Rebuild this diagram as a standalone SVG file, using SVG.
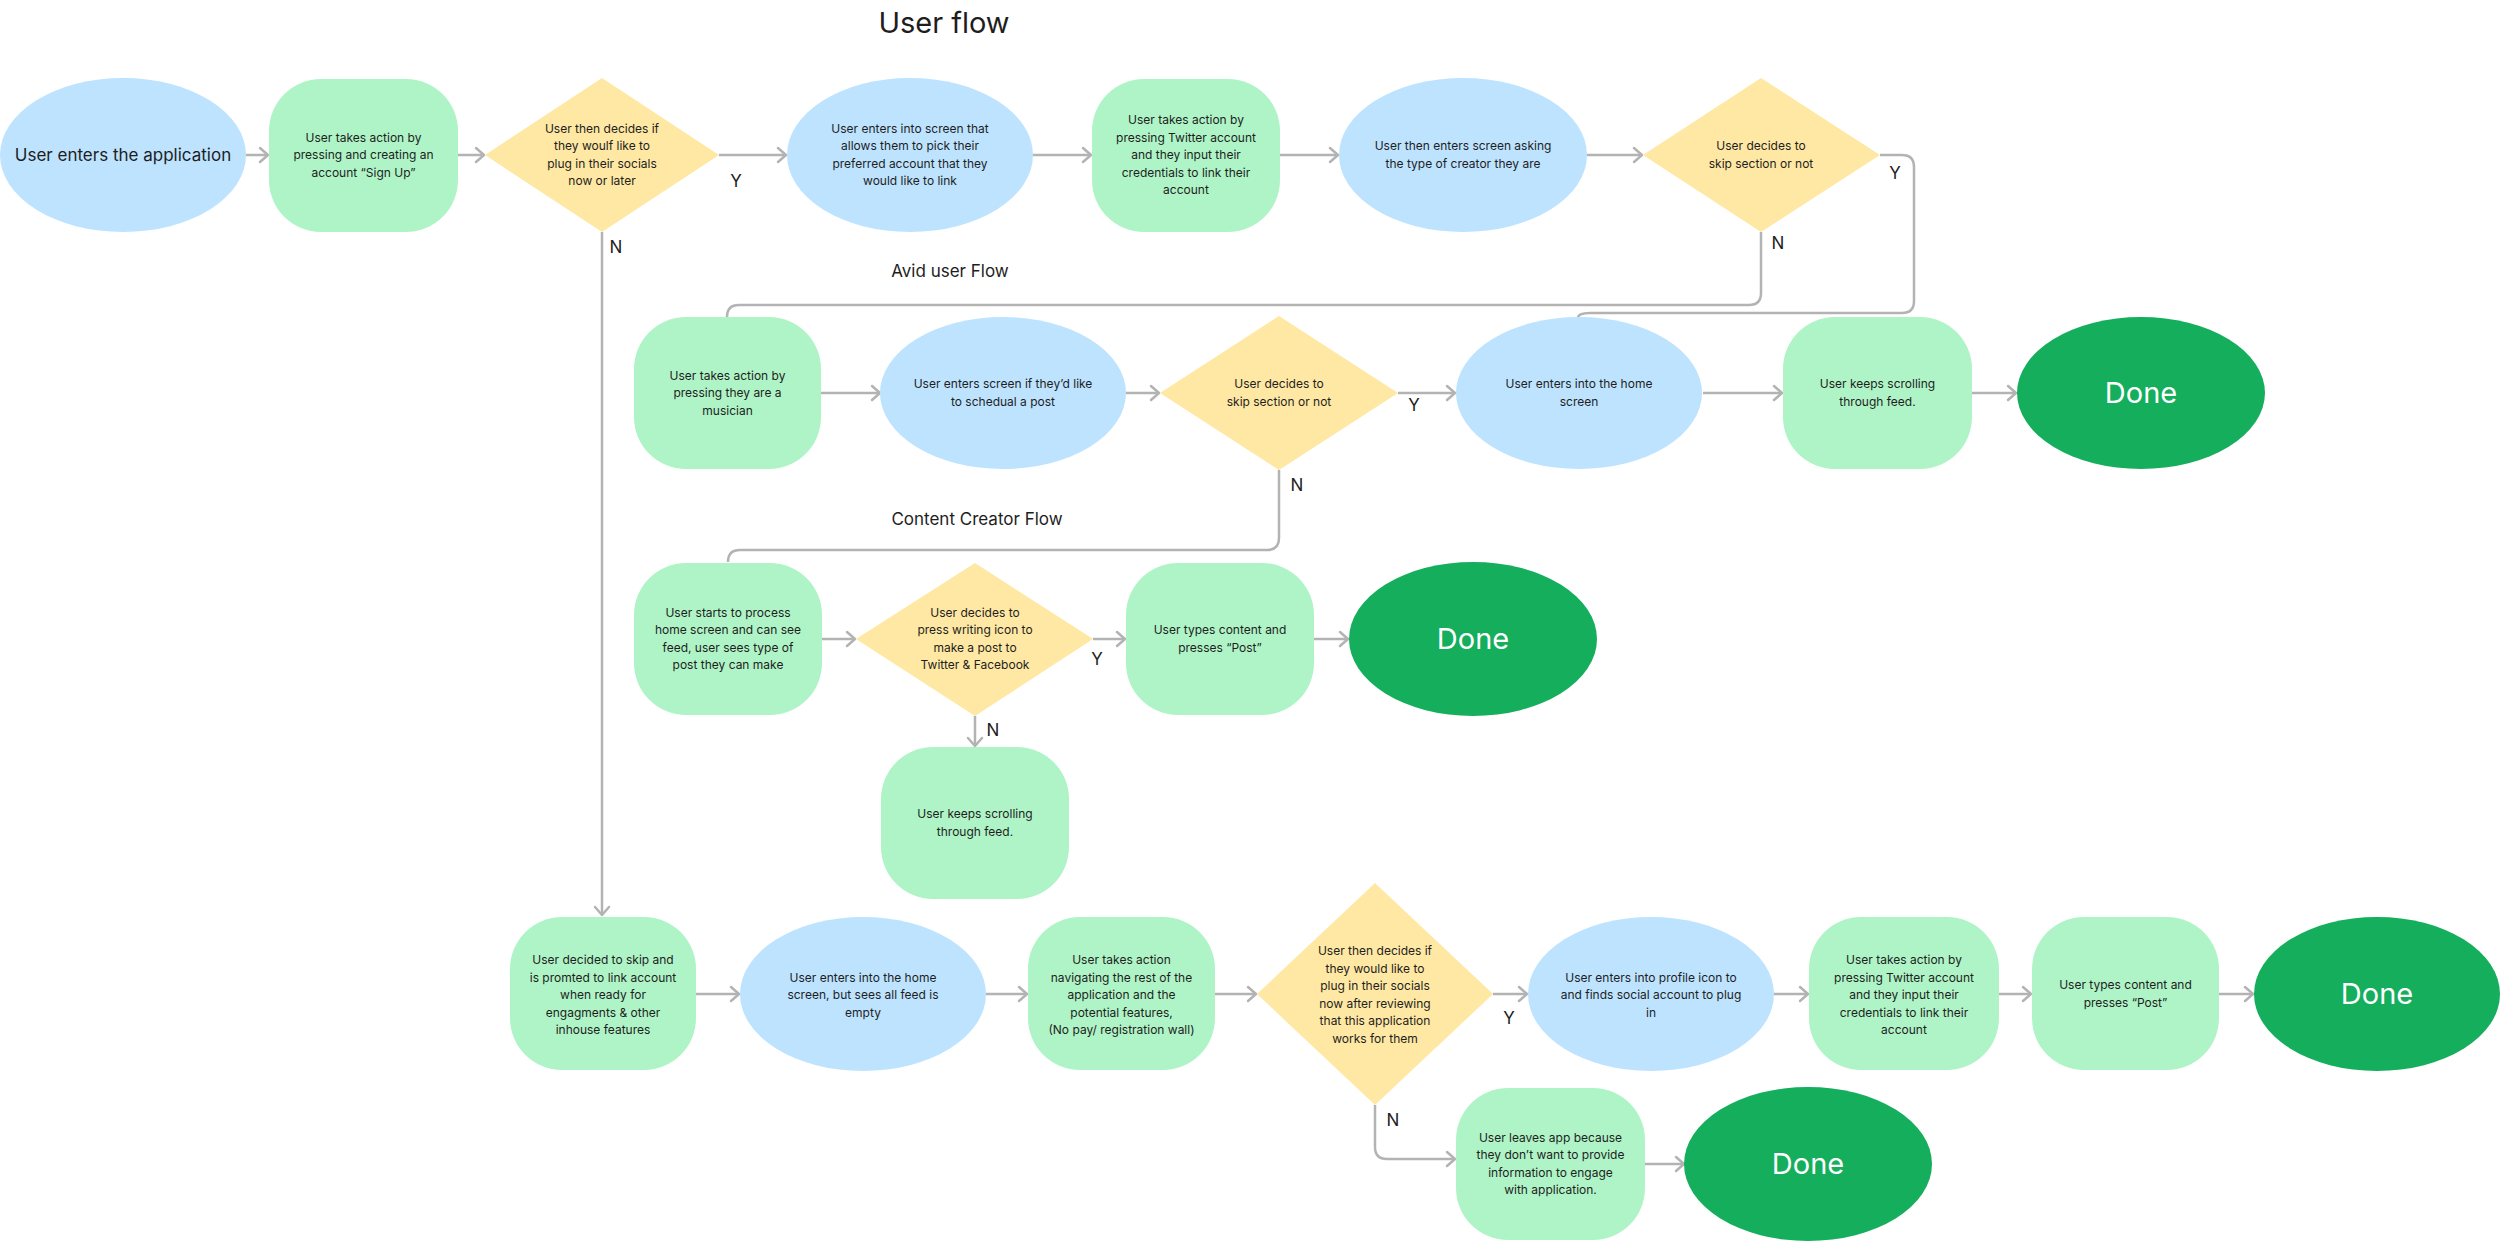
<svg xmlns="http://www.w3.org/2000/svg" width="2500" height="1241" viewBox="0 0 2500 1241">
<defs>
<style>
.bl{fill:#bde3ff}
.gr{fill:#aff4c6}
.ye{fill:#ffe8a3}
.dn{fill:#14ae5c}
.t{font-family:Inter,"Noto Sans","Liberation Sans",sans-serif;font-size:12px;fill:#1e1e1e;text-anchor:middle}
.lb{font-family:Inter,"Noto Sans","Liberation Sans",sans-serif;font-size:17px;fill:#1e1e1e;text-anchor:middle}
.dt{font-family:Inter,"Noto Sans","Liberation Sans",sans-serif;font-size:29px;fill:#ffffff;text-anchor:middle}
.c{fill:none;stroke:#b3b3b3;stroke-width:2.5}
.a{marker-end:url(#arr)}
</style>
<marker id="arr" viewBox="-10 -9 12 18" refX="0" refY="0" markerWidth="12" markerHeight="18" markerUnits="userSpaceOnUse" orient="auto" overflow="visible">
<path d="M-8,-7 L0,0 L-8,7" fill="none" stroke="#b3b3b3" stroke-width="2.5" stroke-linecap="round" stroke-linejoin="round"/>
</marker>
</defs>
<rect width="2500" height="1241" fill="#ffffff"/>

<text x="944" y="33" font-family="Inter,'Noto Sans',sans-serif" font-size="29" fill="#1e1e1e" text-anchor="middle">User flow</text>
<text class="lb" x="950" y="277">Avid user Flow</text>
<text class="lb" x="977" y="525">Content Creator Flow</text>

<g id="connectors">
<path class="c a" d="M246,155 H268"/>
<path class="c a" d="M458,155 H484"/>
<path class="c a" d="M719,155 H786"/>
<path class="c a" d="M1033,155 H1091"/>
<path class="c a" d="M1280,155 H1338"/>
<path class="c a" d="M1587,155 H1642"/>
<path class="c" d="M1880,155 H1902 Q1914,155 1914,167 V301 Q1914,313 1902,313 H1590 Q1578,313 1578,318"/>
<path class="c" d="M1761,232 V293 Q1761,305 1749,305 H739 Q727,305 727,317"/>
<path class="c a" d="M602,232 V915"/>
<path class="c a" d="M821,393 H880"/>
<path class="c a" d="M1126,393 H1159"/>
<path class="c a" d="M1398,393 H1455"/>
<path class="c a" d="M1703,393 H1782"/>
<path class="c a" d="M1972,393 H2016"/>
<path class="c" d="M1279,470 V538 Q1279,550 1267,550 H740 Q728,550 728,562"/>
<path class="c a" d="M822,639 H855"/>
<path class="c a" d="M1093,639 H1125"/>
<path class="c a" d="M1314,639 H1348"/>
<path class="c a" d="M975,716 V746"/>
<path class="c a" d="M696,994 H739"/>
<path class="c a" d="M986,994 H1027"/>
<path class="c a" d="M1215,994 H1256"/>
<path class="c a" d="M1493,994 H1527"/>
<path class="c a" d="M1774,994 H1808"/>
<path class="c a" d="M1999,994 H2031"/>
<path class="c a" d="M2219,994 H2253"/>
<path class="c a" d="M1375,1105 V1147 Q1375,1159 1387,1159 H1455"/>
<path class="c a" d="M1645,1164 H1684"/>
<text class="lb" x="736" y="187">Y</text>
<text class="lb" x="616" y="253">N</text>
<text class="lb" x="1895" y="179">Y</text>
<text class="lb" x="1778" y="249">N</text>
<text class="lb" x="1414" y="411">Y</text>
<text class="lb" x="1297" y="491">N</text>
<text class="lb" x="1097" y="665">Y</text>
<text class="lb" x="993" y="736">N</text>
<text class="lb" x="1509" y="1024">Y</text>
<text class="lb" x="1393" y="1126">N</text>
</g>

<g id="n1"><ellipse class="bl" cx="123" cy="155" rx="123" ry="77"/><text class="lb" x="123" y="161">User enters the application</text></g>
<g id="n2"><rect class="gr" x="269" y="79" width="189" height="153" rx="52"/><text class="t" x="363.5" y="141.5">User takes action by</text><text class="t" x="363.5" y="159">pressing and creating an</text><text class="t" x="363.5" y="176.5">account “Sign Up”</text></g>
<g id="n3"><polygon class="ye" points="602,78 719,155 602,232 485,155"/><text class="t" x="602" y="132.75">User then decides if</text><text class="t" x="602" y="150.25">they woulf like to</text><text class="t" x="602" y="167.75">plug in their socials</text><text class="t" x="602" y="185.25">now or later</text></g>
<g id="n4"><ellipse class="bl" cx="910" cy="155" rx="123" ry="77"/><text class="t" x="910" y="132.75">User enters into screen that</text><text class="t" x="910" y="150.25">allows them to pick their</text><text class="t" x="910" y="167.75">preferred account that they</text><text class="t" x="910" y="185.25">would like to link</text></g>
<g id="n5"><rect class="gr" x="1092" y="79" width="188" height="153" rx="52"/><text class="t" x="1186" y="124">User takes action by</text><text class="t" x="1186" y="141.5">pressing Twitter account</text><text class="t" x="1186" y="159">and they input their</text><text class="t" x="1186" y="176.5">credentials to link their</text><text class="t" x="1186" y="194">account</text></g>
<g id="n6"><ellipse class="bl" cx="1463" cy="155" rx="124" ry="77"/><text class="t" x="1463" y="150.25">User then enters screen asking</text><text class="t" x="1463" y="167.75">the type of creator they are</text></g>
<g id="n7"><polygon class="ye" points="1761,78 1880,155 1761,232 1643,155"/><text class="t" x="1761" y="150.25">User decides to</text><text class="t" x="1761" y="167.75">skip section or not</text></g>

<g id="n8"><rect class="gr" x="634" y="317" width="187" height="152" rx="52"/><text class="t" x="727.5" y="379.5">User takes action by</text><text class="t" x="727.5" y="397">pressing they are a</text><text class="t" x="727.5" y="414.5">musician</text></g>
<g id="n9"><ellipse class="bl" cx="1003" cy="393" rx="123" ry="76"/><text class="t" x="1003" y="388.25">User enters screen if they’d like</text><text class="t" x="1003" y="405.75">to schedual a post</text></g>
<g id="n10"><polygon class="ye" points="1279,316 1398,393 1279,470 1160,393"/><text class="t" x="1279" y="388.25">User decides to</text><text class="t" x="1279" y="405.75">skip section or not</text></g>
<g id="n11"><ellipse class="bl" cx="1579" cy="393" rx="123" ry="76"/><text class="t" x="1579" y="388.25">User enters into the home</text><text class="t" x="1579" y="405.75">screen</text></g>
<g id="n12"><rect class="gr" x="1783" y="317" width="189" height="152" rx="52"/><text class="t" x="1877.5" y="388.25">User keeps scrolling</text><text class="t" x="1877.5" y="405.75">through feed.</text></g>
<g id="n13"><ellipse class="dn" cx="2141" cy="393" rx="124" ry="76"/><text class="dt" x="2141" y="403">Done</text></g>

<g id="n14"><rect class="gr" x="634" y="563" width="188" height="152" rx="52"/><text class="t" x="728" y="616.75">User starts to process</text><text class="t" x="728" y="634.25">home screen and can see</text><text class="t" x="728" y="651.75">feed, user sees type of</text><text class="t" x="728" y="669.25">post they can make</text></g>
<g id="n15"><polygon class="ye" points="975,563 1093,639 975,716 856,639"/><text class="t" x="975" y="616.75">User decides to</text><text class="t" x="975" y="634.25">press writing icon to</text><text class="t" x="975" y="651.75">make a post to</text><text class="t" x="975" y="669.25">Twitter &amp; Facebook</text></g>
<g id="n16"><rect class="gr" x="1126" y="563" width="188" height="152" rx="52"/><text class="t" x="1220" y="634.25">User types content and</text><text class="t" x="1220" y="651.75">presses “Post”</text></g>
<g id="n17"><ellipse class="dn" cx="1473" cy="639" rx="124" ry="77"/><text class="dt" x="1473" y="649">Done</text></g>
<g id="n18"><rect class="gr" x="881" y="747" width="188" height="152" rx="52"/><text class="t" x="975" y="818.25">User keeps scrolling</text><text class="t" x="975" y="835.75">through feed.</text></g>

<g id="n19"><rect class="gr" x="510" y="917" width="186" height="153" rx="52"/><text class="t" x="603" y="964">User decided to skip and</text><text class="t" x="603" y="981.5">is promted to link account</text><text class="t" x="603" y="999">when ready for</text><text class="t" x="603" y="1016.5">engagments &amp; other</text><text class="t" x="603" y="1034">inhouse features</text></g>
<g id="n20"><ellipse class="bl" cx="863" cy="994" rx="123" ry="77"/><text class="t" x="863" y="981.5">User enters into the home</text><text class="t" x="863" y="999">screen, but sees all feed is</text><text class="t" x="863" y="1016.5">empty</text></g>
<g id="n21"><rect class="gr" x="1028" y="917" width="187" height="153" rx="52"/><text class="t" x="1121.5" y="964">User takes action</text><text class="t" x="1121.5" y="981.5">navigating the rest of the</text><text class="t" x="1121.5" y="999">application and the</text><text class="t" x="1121.5" y="1016.5">potential features,</text><text class="t" x="1121.5" y="1034">(No pay/ registration wall)</text></g>
<g id="n22"><polygon class="ye" points="1375,883 1493,994 1375,1105 1257,994"/><text class="t" x="1375" y="955.25">User then decides if</text><text class="t" x="1375" y="972.75">they would like to</text><text class="t" x="1375" y="990.25">plug in their socials</text><text class="t" x="1375" y="1007.75">now after reviewing</text><text class="t" x="1375" y="1025.25">that this application</text><text class="t" x="1375" y="1042.75">works for them</text></g>
<g id="n23"><ellipse class="bl" cx="1651" cy="994" rx="123" ry="77"/><text class="t" x="1651" y="981.5">User enters into profile icon to</text><text class="t" x="1651" y="999">and finds social account to plug</text><text class="t" x="1651" y="1016.5">in</text></g>
<g id="n24"><rect class="gr" x="1809" y="917" width="190" height="153" rx="52"/><text class="t" x="1904" y="964">User takes action by</text><text class="t" x="1904" y="981.5">pressing Twitter account</text><text class="t" x="1904" y="999">and they input their</text><text class="t" x="1904" y="1016.5">credentials to link their</text><text class="t" x="1904" y="1034">account</text></g>
<g id="n25"><rect class="gr" x="2032" y="917" width="187" height="153" rx="52"/><text class="t" x="2125.5" y="989.25">User types content and</text><text class="t" x="2125.5" y="1006.75">presses “Post”</text></g>
<g id="n26"><ellipse class="dn" cx="2377" cy="994" rx="123" ry="77"/><text class="dt" x="2377" y="1004">Done</text></g>
<g id="n27"><rect class="gr" x="1456" y="1088" width="189" height="152" rx="52"/><text class="t" x="1550.5" y="1141.75">User leaves app because</text><text class="t" x="1550.5" y="1159.25">they don’t want to provide</text><text class="t" x="1550.5" y="1176.75">information to engage</text><text class="t" x="1550.5" y="1194.25">with application.</text></g>
<g id="n28"><ellipse class="dn" cx="1808" cy="1164" rx="124" ry="77"/><text class="dt" x="1808" y="1174">Done</text></g>
</svg>
